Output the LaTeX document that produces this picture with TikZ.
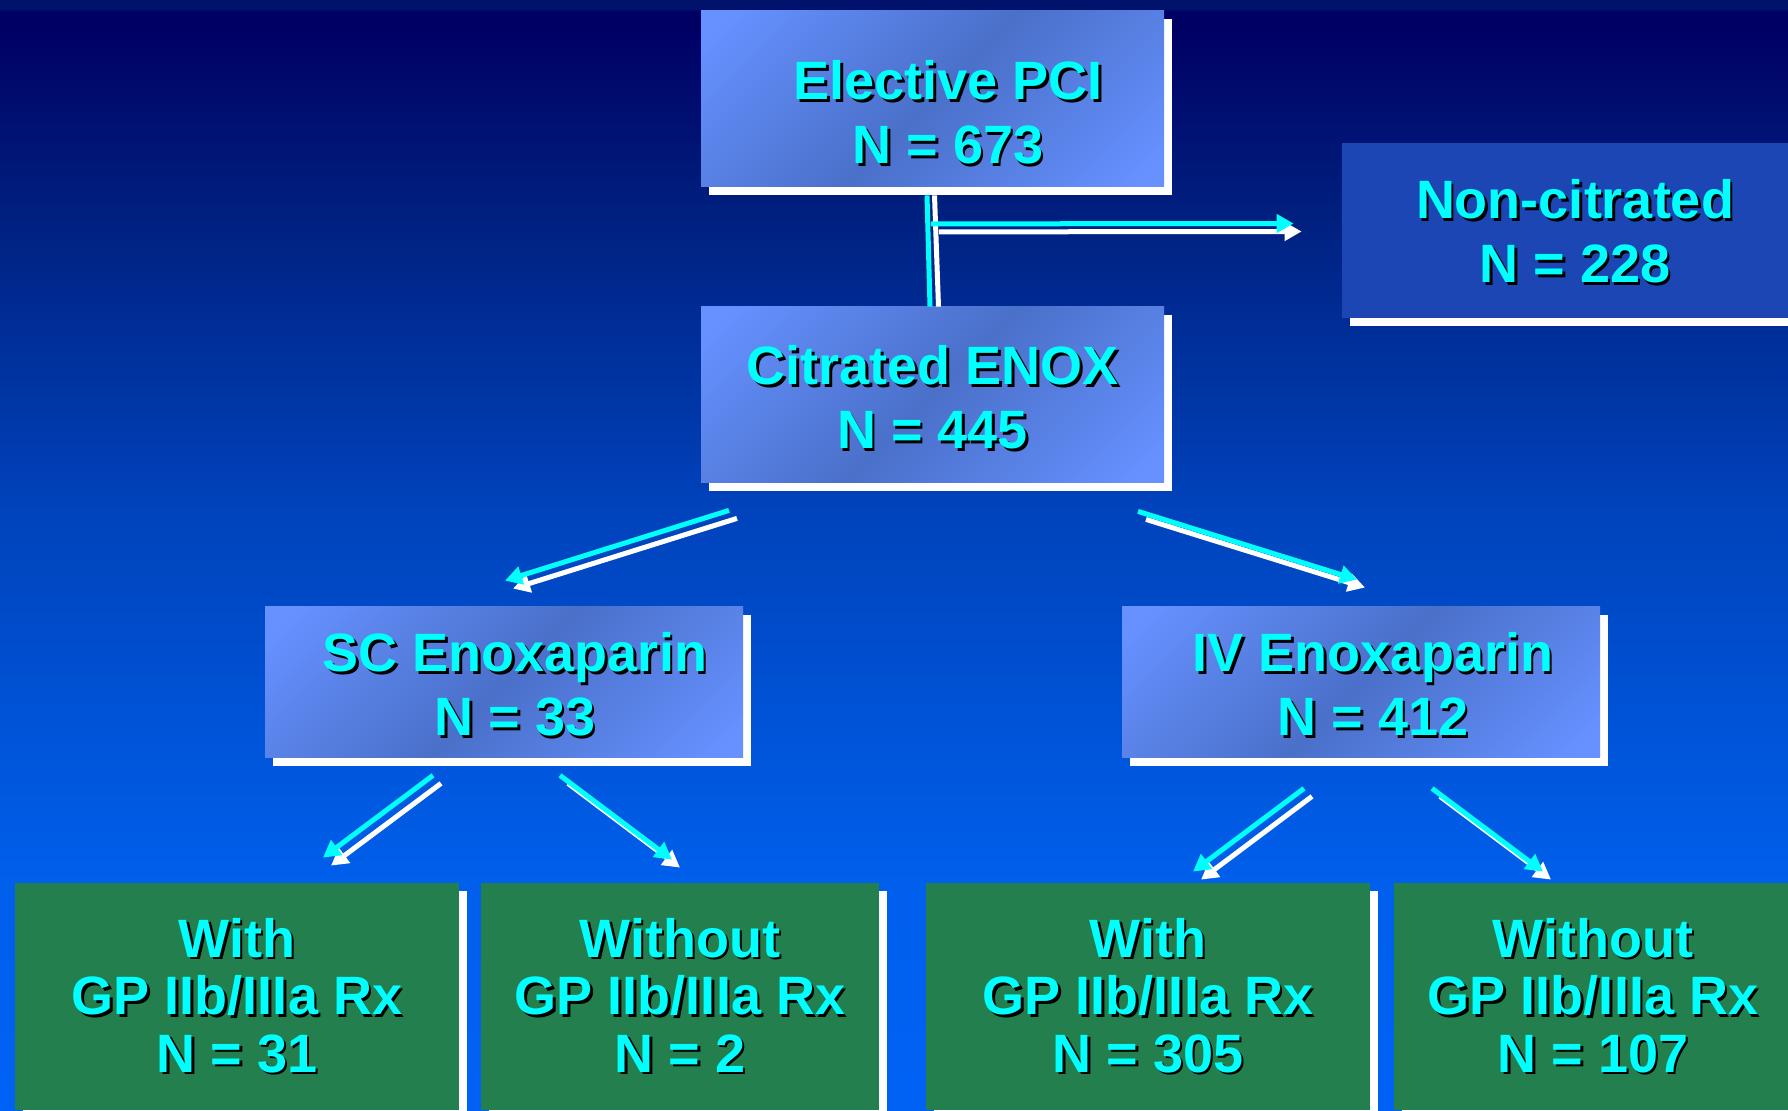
\documentclass[tikz,border=0pt]{standalone}
\usepackage{fontspec}
\setmainfont{Liberation Sans}
\usetikzlibrary{arrows.meta,calc,shadows}

\definecolor{slidecyan}{RGB}{0,255,255}
\definecolor{boxlight}{RGB}{102,145,255}
\definecolor{boxdark}{RGB}{74,112,201}
\definecolor{boxplain}{RGB}{28,70,180}
\definecolor{gpgreen}{RGB}{36,127,78}
\definecolor{bgtop}{RGB}{0,18,108}
\definecolor{bgnavy}{RGB}{0,0,100}
\definecolor{bgupper}{RGB}{0,30,125}
\definecolor{bgmid}{RGB}{0,66,186}
\definecolor{bglow}{RGB}{0,95,235}
\definecolor{bgbottom}{RGB}{0,98,245}

\pgfdeclareverticalshading{slidebg}{100bp}{color(0bp)=(bgbottom); color(25bp)=(bgbottom); color(35.4bp)=(bglow); color(52.5bp)=(bgmid); color(66bp)=(bgupper); color(73.7bp)=(bgnavy); color(74.5bp)=(bgnavy); color(74.6bp)=(bgtop); color(75bp)=(bgtop); color(100bp)=(bgtop)}
\pgfdeclarehorizontalshading{boxshade}{100bp}{color(0bp)=(boxlight); color(18bp)=(boxlight); color(50bp)=(boxdark); color(82bp)=(boxlight); color(100bp)=(boxlight)}

\newcommand\sh[1]{\leavevmode\rlap{\kern1.3pt\raisebox{-1.3pt}{\color{black}#1}}#1}
\newcommand\boxlines[1]{\begin{tabular}[t]{@{}c@{}}#1\end{tabular}}

\begin{document}
\begin{tikzpicture}[x=0.5pt, y=-0.5pt,
    box/.style={rectangle, inner sep=0pt,
      drop shadow={shadow xshift=4pt, shadow yshift=-4pt, fill=white, opacity=1}},
    bluebox/.style={box, shading=boxshade, shading angle=-45,
      minimum width=231.5pt, minimum height=88pt},
    sidebox/.style={box, fill=boxplain, minimum width=233pt, minimum height=87.5pt},
    armbox/.style={bluebox, minimum width=239pt, minimum height=75.5pt},
    gpbox/.style={box, fill=gpgreen, minimum height=113.5pt},
    boxtext/.style={anchor=base, inner sep=0pt, text=slidecyan,
      font=\fontsize{27pt}{32pt}\selectfont\bfseries},
    gptext/.style={boxtext, font=\fontsize{27pt}{28.75pt}\selectfont\bfseries},
    link/.style={line width=2.5pt, -{Triangle[length=8.5pt, width=9pt]}},
    cyanlink/.style={link, draw=slidecyan},
    whitelink/.style={link, draw=white, transform canvas={shift={(4pt,-4pt)}}},
  ]
  \useasboundingbox (0,0) rectangle (1788,1111);
  \clip (0,0) rectangle (1788,1111);
  \shade[shading=slidebg] (0,0) rectangle (1788,1111);

  % boxes
  \node[bluebox] (pci) at (932.5,99) {};
  \node[bluebox] (citr) at (932.5,395) {};
  \node[sidebox] (noncit) at (1575,230.5) {};
  \node[armbox] (sc) at (504,682.5) {};
  \node[armbox] (iv) at (1361,682.5) {};
  \node[gpbox, minimum width=222pt] (scw) at (237,996.5) {};
  \node[gpbox, minimum width=199pt] (scwo) at (680,996.5) {};
  \node[gpbox, minimum width=222pt] (ivw) at (1148,996.5) {};
  \node[gpbox, minimum width=199pt] (ivwo) at (1593,996.5) {};

  % texts
  \node[boxtext] (pci-t) at ($(pci)+(15.5,1)$) {\boxlines{\sh{Elective PCI}\\\sh{N = 673}}};
  \node[boxtext] (citr-t) at ($(citr)+(0,-10)$) {\boxlines{\sh{Citrated ENOX}\\\sh{N = 445}}};
  \node[boxtext] (noncit-t) at ($(noncit)+(0,-11.5)$) {\boxlines{\sh{Non-citrated}\\\sh{N = 228}}};
  \node[boxtext] (sc-t) at ($(sc)+(11,-10.5)$) {\boxlines{\sh{SC Enoxaparin}\\\sh{N = 33}}};
  \node[boxtext] (iv-t) at ($(iv)+(12,-10.5)$) {\boxlines{\sh{IV Enoxaparin}\\\sh{N = 412}}};
  \node[gptext] (scw-t) at ($(scw)+(0,-39.5)$) {\boxlines{\sh{With}\\\sh{GP IIb/IIIa Rx}\\\sh{N = 31}}};
  \node[gptext] (scwo-t) at ($(scwo)+(0,-39.5)$) {\boxlines{\sh{Without}\\\sh{GP IIb/IIIa Rx}\\\sh{N = 2}}};
  \node[gptext] (ivw-t) at ($(ivw)+(0,-39.5)$) {\boxlines{\sh{With}\\\sh{GP IIb/IIIa Rx}\\\sh{N = 305}}};
  \node[gptext] (ivwo-t) at ($(ivwo)+(0,-39.5)$) {\boxlines{\sh{Without}\\\sh{GP IIb/IIIa Rx}\\\sh{N = 107}}};

  % trunk from PCI to citrated
  \draw[link, -, draw=white] ($(pci.south)+(2,8)$) -- ($(citr.north)+(6,0)$);
  \draw[link, -, draw=slidecyan] ($(pci.south)+(-5.5,8)$) -- ($(citr.north)+(-2.5,0)$);

  % arrow ends
  \coordinate (fork) at ($(pci.south)+(-1.5,36.5)$);
  \coordinate (noncit-in) at ($(noncit.west)+(-48,-7)$);
  \coordinate (citr-l) at ($(citr.south)+(-203.5,27)$);
  \coordinate (citr-r) at ($(citr.south)+(205.5,28)$);
  \coordinate (sc-in) at ($(sc.north)+(1,-26)$);
  \coordinate (iv-in) at ($(iv.north)+(-4,-27)$);
  \coordinate (sc-l) at ($(sc.south)+(-71,17)$);
  \coordinate (sc-r) at ($(sc.south)+(56,17)$);
  \coordinate (iv-l) at ($(iv.south)+(-57,30)$);
  \coordinate (iv-r) at ($(iv.south)+(71,30)$);
  \coordinate (scw-in) at ($(scw.north)+(86,-25)$);
  \coordinate (scwo-in) at ($(scwo.north)+(-8,-23)$);
  \coordinate (ivw-in) at ($(ivw.north)+(45,-11)$);
  \coordinate (ivwo-in) at ($(ivwo.north)+(-50,-11)$);

  \foreach \s/\t in {fork/noncit-in, citr-l/sc-in, citr-r/iv-in,
      sc-l/scw-in, sc-r/scwo-in, iv-l/ivw-in, iv-r/ivwo-in} {
    \draw[whitelink] (\s) -- (\t);
    \draw[cyanlink] (\s) -- (\t);
  }
\end{tikzpicture}
\end{document}
